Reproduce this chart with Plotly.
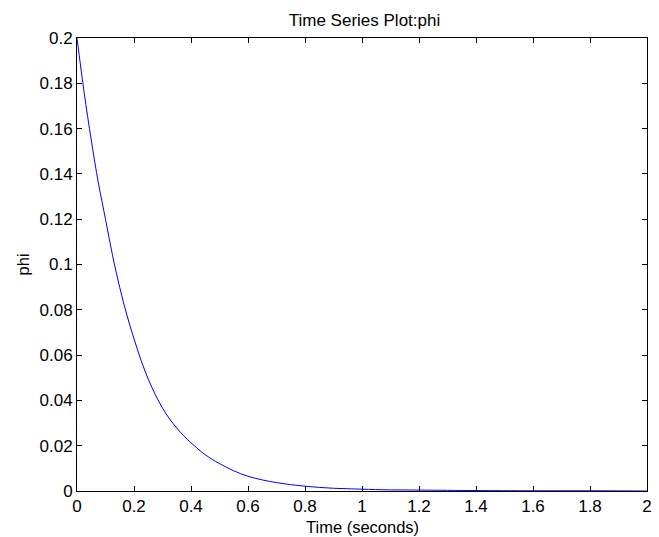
import plotly.graph_objects as go

# Data
time_s = [0.000, 0.025, 0.050, 0.075, 0.100, 0.125, 0.150, 0.175, 0.200, 0.225,
          0.250, 0.275, 0.300, 0.325, 0.350, 0.375, 0.400, 0.425, 0.450, 0.475,
          0.500, 0.550, 0.600, 0.650, 0.700, 0.750, 0.800, 0.850, 0.900, 0.950,
          1.000, 1.100, 1.200, 1.300, 1.400, 1.600, 1.800, 2.000]
phi = [0.2000, 0.1760, 0.1550, 0.1360, 0.1200, 0.1038, 0.0898, 0.0777, 0.0672, 0.0576,
       0.0494, 0.0425, 0.0366, 0.0318, 0.0278, 0.0243, 0.0213, 0.0185, 0.0160, 0.0139,
       0.0121, 0.0089, 0.0065, 0.0049, 0.0037, 0.0028, 0.0021, 0.0016, 0.0012, 0.0010,
       0.0008, 0.0005, 0.0004, 0.0003, 0.0002, 0.0001, 0.0001, 0.0000]

x_ticks = [0, 0.2, 0.4, 0.6, 0.8, 1, 1.2, 1.4, 1.6, 1.8, 2]
x_tick_labels = ["0", "0.2", "0.4", "0.6", "0.8", "1", "1.2", "1.4", "1.6", "1.8", "2"]
y_ticks = [0, 0.02, 0.04, 0.06, 0.08, 0.1, 0.12, 0.14, 0.16, 0.18, 0.2]
y_tick_labels = ["0", "0.02", "0.04", "0.06", "0.08", "0.1", "0.12", "0.14", "0.16", "0.18", "0.2"]

title_text = "Time Series Plot:phi"
x_label = "Time (seconds)"
y_label = "phi"

W, H = 659, 537
L, R, T, B = 77, 7, 38, 46
FONT = "Liberation Sans, Arial, Helvetica, sans-serif"

fig = go.Figure()
fig.add_trace(go.Scatter(x=time_s, y=phi, mode="lines",
                         line=dict(color="#0000ff", width=1, shape="spline", smoothing=1.0),
                         showlegend=False, hoverinfo="x+y"))

axis_common = dict(showline=True, linecolor="black", linewidth=1, mirror="ticks",
                   ticks="inside", ticklen=5, tickcolor="black", tickwidth=1,
                   showgrid=False, zeroline=False, ticklabeloverflow="allow",
                   tickfont=dict(family=FONT, size=17, color="black"))

fig.update_xaxes(range=[0, 2], tickvals=x_ticks, ticktext=x_tick_labels, **axis_common)
fig.update_yaxes(range=[0, 0.2], tickvals=y_ticks, ticktext=y_tick_labels, **axis_common)

plot_h = H - T - B
plot_w = W - L - R
fig.update_layout(
    width=W, height=H,
    margin=dict(l=L, r=R, t=T, b=B, pad=0),
    paper_bgcolor="white", plot_bgcolor="white",
    title=dict(text=title_text, x=(L + plot_w / 2) / W, xanchor="center",
               y=1 - 20 / H, yanchor="middle", yref="container",
               font=dict(family=FONT, size=17, color="black")),
    annotations=[
        dict(text=x_label, xref="paper", yref="paper", x=0.5, y=-(526.5 - (T + plot_h)) / plot_h,
             xanchor="center", yanchor="middle", showarrow=False, borderpad=0,
             font=dict(family=FONT, size=16.5, color="black")),
        dict(text=y_label, xref="paper", yref="paper", x=(22.5 - L) / plot_w, y=0.5,
             xanchor="center", yanchor="middle", textangle=-90, showarrow=False,
             font=dict(family=FONT, size=16.5, color="black")),
    ],
)

fig.write_html("out.html",
               config={"displayModeBar": False},
               post_script="document.body.style.margin='0';document.body.style.padding='0';"
                           "document.body.style.overflow='hidden';")
